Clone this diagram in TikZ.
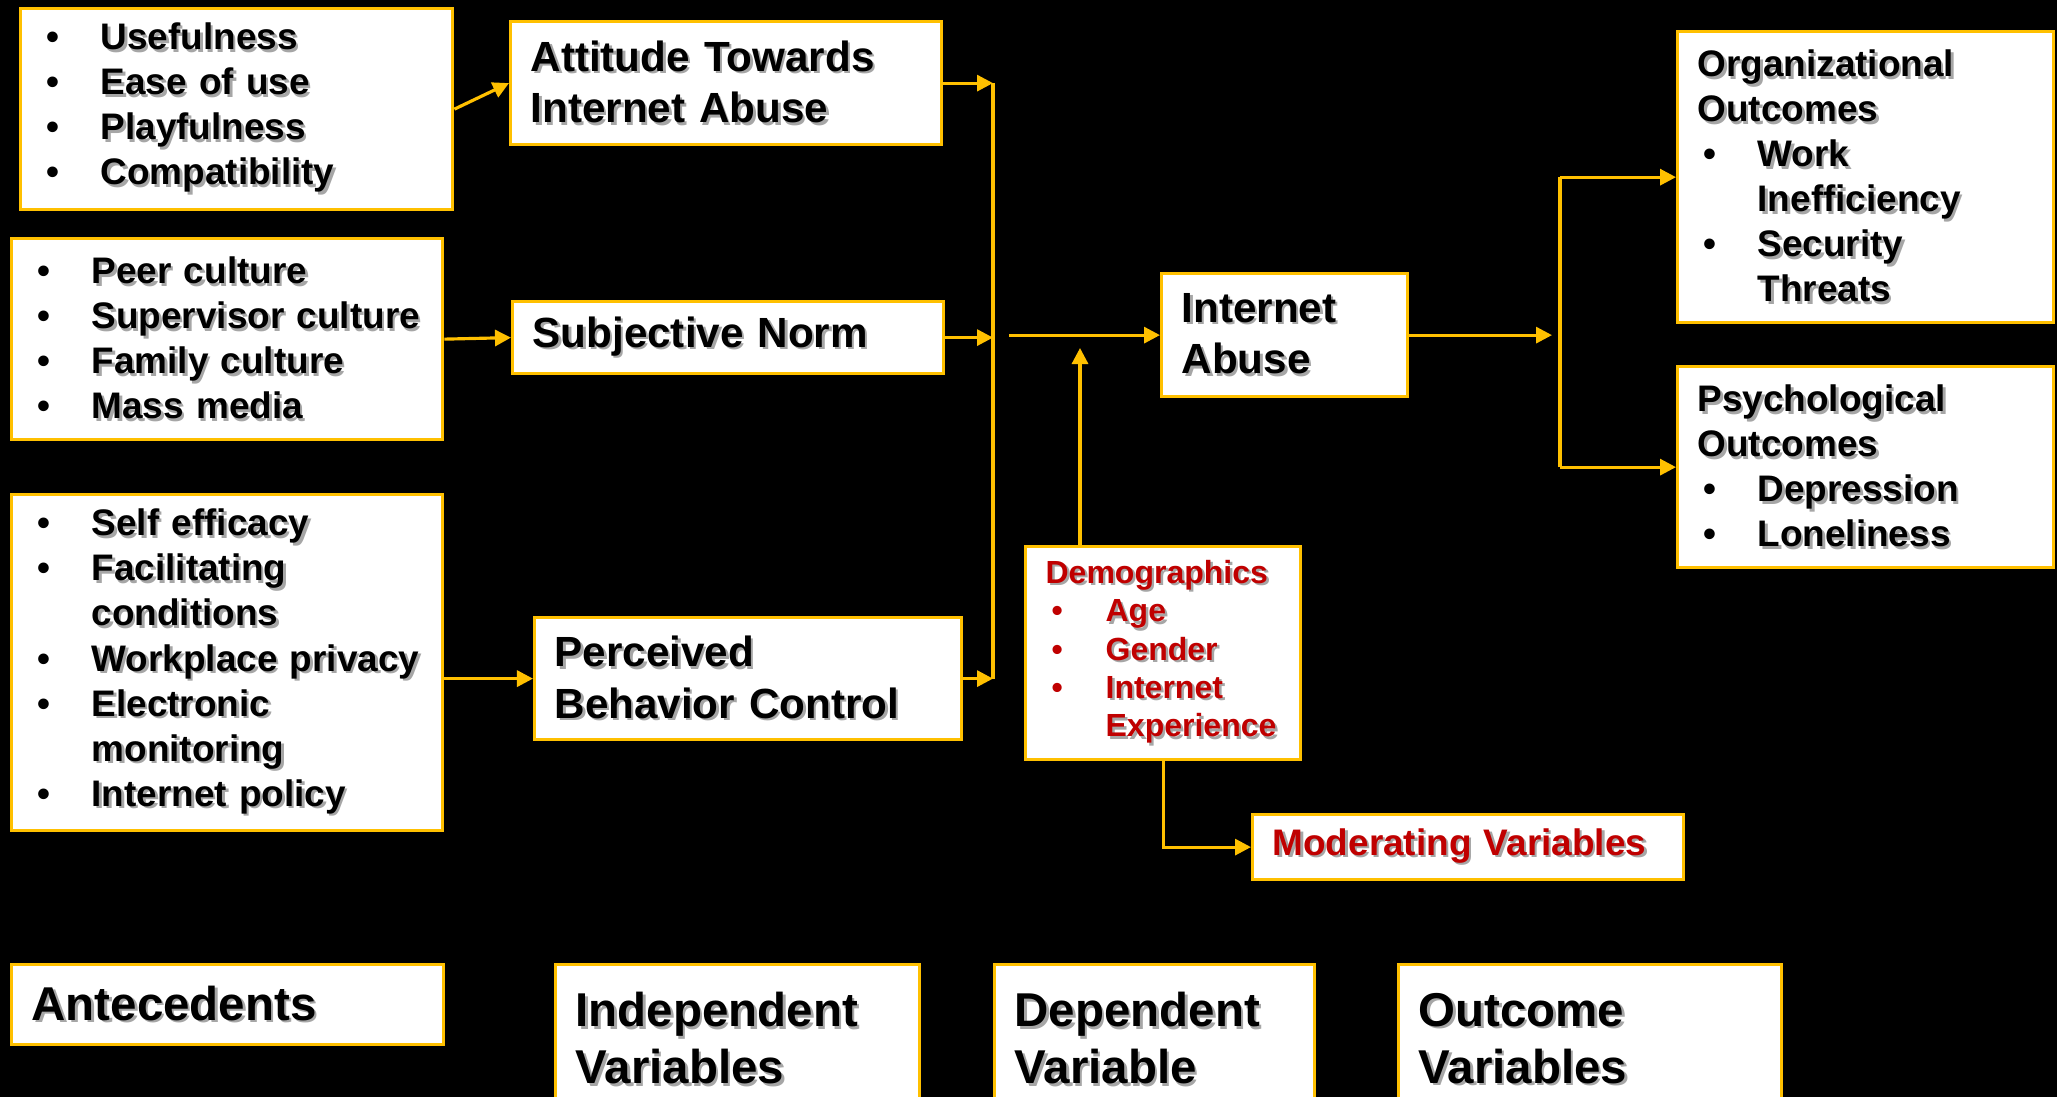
\documentclass[tikz,border=0pt]{standalone}
\usepackage{fontspec}
\setmainfont{Liberation Sans}
\usepackage{xcolor}
\usepackage{tikz}
\usetikzlibrary{arrows.meta}

\definecolor{gold}{HTML}{FFC000}
\definecolor{darkred}{HTML}{C00000}

% text with a soft grey shadow
\newcommand\shd[1]{\makebox[0pt][l]{\kern0.7pt\raisebox{-0.7pt}{\textcolor{black!35}{#1}}}#1}
\newcommand\itm{\hspace*{0.06cm}\makebox[0.54cm][l]{\textbullet}}
\newcommand\cnt{\hspace*{0.6cm}}

\tikzset{
  box/.style={draw=gold, line width=0.9pt, fill=white, anchor=north west,
    align=left, inner xsep=0.2cm, inner ysep=0pt},
  itemtxt/.style={font=\fontsize{10.5}{12.8}\selectfont\bfseries},
  titletxt/.style={font=\fontsize{12}{14.6}\selectfont\bfseries},
  demotxt/.style={font=\fontsize{9.1}{10.9}\selectfont\bfseries, text=darkred},
  bigtxt/.style={font=\fontsize{13.5}{16.2}\selectfont\bfseries},
  link/.style={gold, line width=0.9pt},
  arr/.style={link, -{Triangle[length=0.16cm, width=0.16cm]}},
}

\begin{document}
\begin{tikzpicture}[x=0.01cm, y=-0.01cm]
        \useasboundingbox (0,0) rectangle (2057,1097);
        \fill[black] (0,0) rectangle (2057,1097);
        \clip (0,0) rectangle (2057,1097);

        % antecedents
        \node[box, itemtxt, text width=3.92cm, minimum height=2.01cm] (ant1) at (19,7)
            {\itm\shd{Usefulness}\\ \itm\shd{Ease of use}\\ \itm\shd{Playfulness}\\ \itm\shd{Compatibility}};
        \node[box, itemtxt, text width=3.91cm, minimum height=2.01cm] (ant2) at (10,237)
            {\itm\shd{Peer culture}\\ \itm\shd{Supervisor culture}\\ \itm\shd{Family culture}\\ \itm\shd{Mass media}};
        \node[box, itemtxt, text width=3.91cm, minimum height=3.36cm] (ant3) at (10,493)
            {\itm\shd{Self efficacy}\\ \itm\shd{Facilitating}\\ \cnt\shd{conditions}\\ \itm\shd{Workplace privacy}\\
             \itm\shd{Electronic}\\ \cnt\shd{monitoring}\\ \itm\shd{Internet policy}};

        % independent variables
        \node[box, titletxt, text width=3.91cm, minimum height=1.23cm] (att) at (509,20)
            {\shd{Attitude Towards}\\ \shd{Internet Abuse}};
        \node[box, titletxt, text width=3.91cm, minimum height=0.72cm] (sn) at (511,300)
            {\shd{Subjective Norm}};
        \node[box, titletxt, text width=3.87cm, minimum height=1.22cm] (pbc) at (533,616)
            {\shd{Perceived}\\ \shd{Behavior Control}};

        % dependent variable and moderators
        \node[box, titletxt, text width=2.06cm, minimum height=1.23cm] (ia) at (1160,272)
            {\shd{Internet}\\ \shd{Abuse}};
        \node[box, demotxt, text width=2.35cm, minimum height=2.13cm] (demo) at (1024,545)
            {\shd{Demographics}\\ \itm\shd{Age}\\ \itm\shd{Gender}\\ \itm\shd{Internet}\\ \cnt\shd{Experience}};
        \node[box, itemtxt, text=darkred, text width=3.91cm, minimum height=0.65cm] (mod) at (1251,813)
            {\shd{Moderating Variables}};

        % outcomes
        \node[box, itemtxt, text width=3.36cm, minimum height=2.91cm] (org) at (1676,30)
            {\shd{Organizational}\\ \shd{Outcomes}\\ \itm\shd{Work}\\ \cnt\shd{Inefficiency}\\ \itm\shd{Security}\\ \cnt\shd{Threats}};
        \node[box, itemtxt, text width=3.36cm, minimum height=2.01cm] (psy) at (1676,365)
            {\shd{Psychological}\\ \shd{Outcomes}\\ \itm\shd{Depression}\\ \itm\shd{Loneliness}};

        % legend row
        \node[box, bigtxt, text width=3.92cm, minimum height=0.80cm] (lant) at (10,963) {\shd{Antecedents}};
        \node[box, bigtxt, text width=3.24cm, minimum height=1.50cm] (lind) at (554,963) {\shd{Independent}\\ \shd{Variables}};
        \node[box, bigtxt, text width=2.80cm, minimum height=1.50cm] (ldep) at (993,963) {\shd{Dependent}\\ \shd{Variable}};
        \node[box, bigtxt, text width=3.43cm, minimum height=1.50cm] (lout) at (1397,963) {\shd{Outcome}\\ \shd{Variables}};

        % connectors
        \coordinate (bus) at (993,0);
        \coordinate (jn) at (1009,0);
        \coordinate (up) at (1080,348);
        \coordinate (forkin) at (1552,0);
        \coordinate (fork) at (1560,0);

        \draw[arr] (ant1.east) -- (att.west);
        \draw[arr] (ant2.east) -- (sn.west);
        \draw[arr] (ant3.east |- pbc.west) -- (pbc.west);
        \draw[arr] (att.east) -- (att.east -| bus);
        \draw[arr] (sn.east) -- (sn.east -| bus);
        \draw[arr] (pbc.east) -- (pbc.east -| bus);
        \draw[link] (bus |- att.east) -- (bus |- pbc.east);
        \draw[arr] (jn |- ia.west) -- (ia.west);
        \draw[arr] (up |- demo.north) -- (up);
        \draw[arr] (demo.south) |- (mod.west);
        \draw[arr] (ia.east) -- (ia.east -| forkin);
        \draw[link] (fork |- org.west) -- (fork |- psy.west);
        \draw[arr] (fork |- org.west) -- (org.west);
        \draw[arr] (fork |- psy.west) -- (psy.west);
\end{tikzpicture}
\end{document}
